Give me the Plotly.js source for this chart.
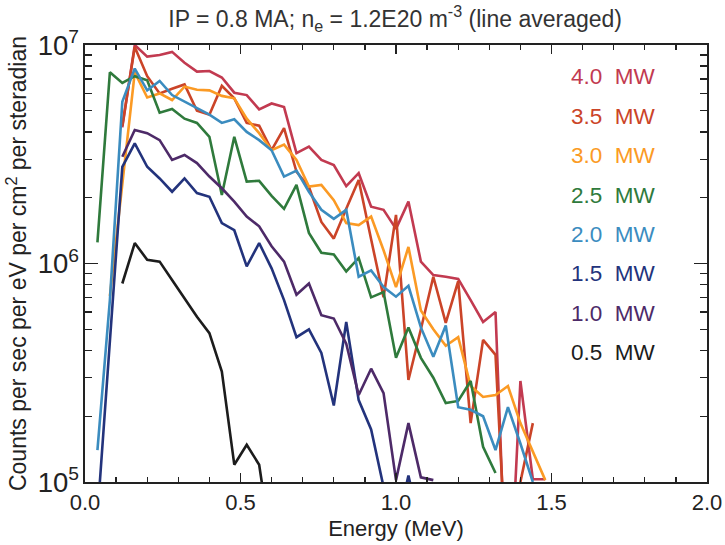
<!DOCTYPE html>
<html><head><meta charset="utf-8">
<script src="https://cdn.plot.ly/plotly-3.0.1.min.js"></script>
<style>html,body{margin:0;padding:0;background:#fff}#c{width:725px;height:545px}</style>
</head><body><div id="c"></div>
<script>
// Energy bin centres (MeV)
const energy = [0.04,0.08,0.12,0.16,0.20,0.24,0.28,0.32,0.36,0.40,0.44,0.48,0.52,0.56,0.60,0.64,0.68,0.72,0.76,0.80,0.84,0.88,0.92,0.96,1.00,1.04,1.08,1.12,1.16,1.20,1.24,1.28,1.32,1.36,1.40,1.44,1.48];

// Counts per sec per eV per cm2 per steradian, one array per heating power
const p40 = [null,null,4.2e6,1.0e7,8.85e6,9.0e6,9.3e6,8.3e6,7.55e6,7.6e6,7.1e6,6.05e6,5.9e6,5.07e6,5.4e6,5.2e6,3.2e6,3.43e6,2.98e6,2.82e6,2.26e6,2.59e6,1.82e6,1.76e6,1.44e6,1.92e6,1.02e6,8.85e5,8.7e5,8.5e5,6.8e5,5.4e5,6.0e5,2.0e4,2.9e5,1.03e5,1.03e5];
const p35 = [null,null,4.27e6,9.8e6,7.2e6,6.0e6,6.3e6,6.6e6,5.0e6,4.8e6,6.5e6,5.7e6,4.4e6,4.27e6,3.3e6,4.16e6,2.63e6,2.24e6,1.55e6,1.30e6,1.78e6,2.41e6,1.29e6,7.0e5,1.67e6,2.93e5,5.0e5,8.7e5,5.35e5,8.3e5,1.86e5,4.47e5,3.82e5,3.0e4,1.0e5,1.86e5,null];
const p30 = [null,7.1e5,2.3e6,7.5e6,5.75e6,6.0e6,5.6e6,6.45e6,6.24e6,6.2e6,5.85e6,5.7e6,4.6e6,3.95e6,3.3e6,3.5e6,2.98e6,2.25e6,2.29e6,1.95e6,1.53e6,1.5e6,1.64e6,1.15e6,7.8e5,1.19e6,6.1e5,5.0e5,4.2e5,4.6e5,2.75e5,2.45e5,2.5e5,2.75e5,1.86e5,1.38e5,1.02e5];
const p25 = [1.25e6,7.5e6,6.7e6,7.2e6,6.9e6,4.9e6,5.1e6,4.6e6,4.4e6,3.8e6,2.06e6,3.8e6,2.37e6,2.39e6,2.04e6,1.78e6,2.29e6,1.38e6,1.12e6,1.10e6,9.2e5,1.06e6,7.0e5,7.4e5,3.7e5,5.1e5,3.7e5,3.0e5,2.3e5,2.35e5,2.9e5,1.45e5,1.1e5,null,null,null,null];
const p20 = [1.4e5,6.8e5,5.5e6,7.8e6,6.2e6,6.85e6,5.9e6,5.5e6,5.13e6,4.8e6,4.4e6,4.57e6,4.0e6,3.67e6,3.3e6,2.5e6,2.66e6,2.13e6,1.76e6,1.6e6,1.76e6,8.7e5,9.3e5,7.8e5,7.05e5,7.9e5,5.1e5,3.74e5,5.2e5,2.2e5,2.14e5,2.0e5,1.4e5,2.2e5,1.5e5,1.0e5,null];
const p15 = [7e4,4.5e5,2.77e6,3.55e6,2.77e6,2.45e6,2.13e6,2.45e6,2.1e6,2.02e6,1.53e6,1.42e6,9.7e5,1.24e6,9.5e5,6.8e5,4.6e5,5.0e5,3.9e5,2.24e5,5.4e5,2.37e5,1.74e5,9.5e4,6e4,1.07e5,6e4,null,null,null,null,null,null,null,null,null,null];
const p10 = [null,null,3.08e6,4.08e6,3.95e6,3.67e6,2.98e6,3.14e6,2.88e6,2.5e6,2.21e6,1.92e6,1.64e6,1.48e6,1.2e6,1.02e6,7.2e5,8.1e5,5.8e5,5.6e5,4.3e5,2.5e5,3.3e5,2.55e5,1.02e5,1.86e5,1.05e5,1.02e5,null,null,null,null,null,null,null,null,null];
const p05 = [null,null,8.1e5,1.24e6,1.04e6,1.02e6,8.4e5,6.9e5,5.7e5,4.8e5,3.2e5,1.2e5,1.48e5,1.2e5,5e4,null,null,null,null,null,null,null,null,null,null,null,null,null,null,null,null,null,null,null,null,null,null];

const labels = ["4.0\u00a0\u00a0MW","3.5\u00a0\u00a0MW","3.0\u00a0\u00a0MW","2.5\u00a0\u00a0MW","2.0\u00a0\u00a0MW","1.5\u00a0\u00a0MW","1.0\u00a0\u00a0MW","0.5\u00a0\u00a0MW"];
const series = [p40,p35,p30,p25,p20,p15,p10,p05];
const colors = ["#c23a50","#cb4428","#fb9a24","#2f7a3c","#3b8cbf","#23337c","#4d2a68","#1c1c1c"];

const traces = series.map((s,k)=>({
  x: energy, y: s, type:'scatter', mode:'lines', name: labels[k],
  line:{color:colors[k], width:2.6}, connectgaps:false, hoverinfo:'skip'
}));

const font = {family:'"Liberation Sans", Arial, sans-serif', color:'#222'};
const annotations = labels.map((t,k)=>({
  xref:'paper', yref:'paper', x:0.922, y:0.927-0.0902*k, xanchor:'right', yanchor:'middle',
  text:t, showarrow:false, font:{family:font.family, size:22.5, color:colors[k]}
}));

const layout = {
  width:725, height:545,
  margin:{l:85, r:18, t:45, b:63},
  paper_bgcolor:'#fff', plot_bgcolor:'#fff',
  showlegend:false,
  font:{family:font.family, size:22, color:'#222'},
  title:{text:'IP = 0.8 MA; n<sub>e</sub> = 1.2E20 m<sup>-3</sup> (line averaged)', x:0.545, xanchor:'center', y:0.965, yanchor:'middle', font:{family:font.family, size:23, color:'#333'}},
  xaxis:{range:[0,2], dtick:0.5, tickformat:'.1f', showgrid:false, zeroline:false,
    showline:true, linecolor:'#222', linewidth:1.6, mirror:'allticks',
    ticks:'inside', ticklen:9, tickwidth:1.6, tickcolor:'#222',
    minor:{ticks:'inside', ticklen:5, dtick:0.1, tickwidth:1.4, tickcolor:'#222', showgrid:false},
    tickfont:{size:22}, title:{text:'Energy (MeV)', font:{size:22}, standoff:6}},
  yaxis:{type:'log', range:[5,7], dtick:1, exponentformat:'power', showgrid:false, zeroline:false,
    showline:true, linecolor:'#222', linewidth:1.6, mirror:'allticks',
    ticks:'inside', ticklen:13, tickwidth:1.6, tickcolor:'#222',
    minor:{ticks:'inside', ticklen:7, dtick:'D1', tickwidth:1.4, tickcolor:'#222', showgrid:false},
    tickfont:{size:22}, title:{text:'Counts per sec per eV per cm<sup>2</sup> per steradian', font:{size:23}, standoff:4}},
  annotations: annotations
};
Plotly.newPlot('c', traces, layout, {staticPlot:true, displayModeBar:false});
</script></body></html>
